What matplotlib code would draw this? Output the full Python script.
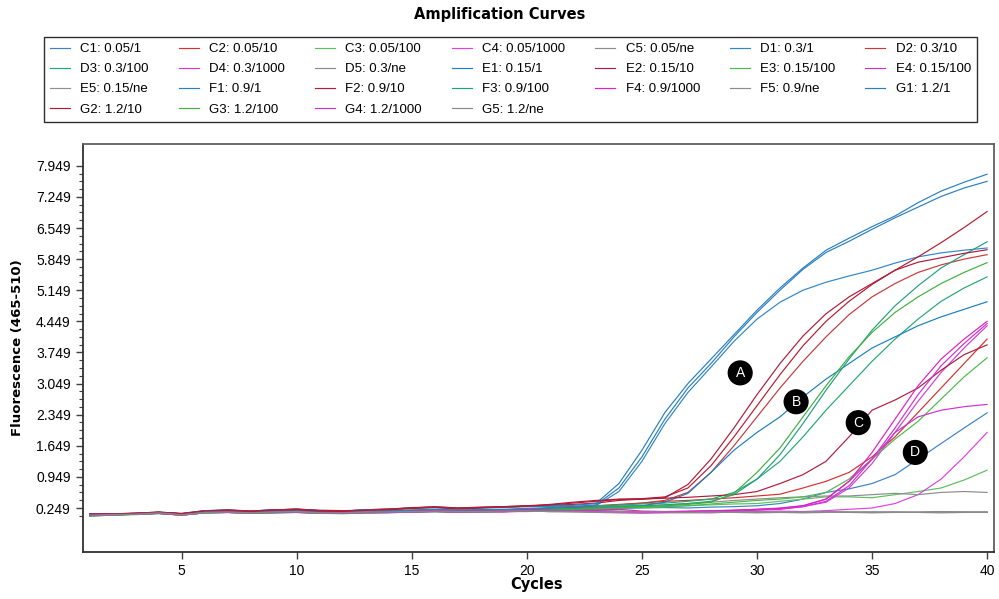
import matplotlib
matplotlib.use("Agg")
import matplotlib.pyplot as plt
from matplotlib.ticker import FixedLocator, FormatStrFormatter

# fluorescence readings per well, cycles 1..40
cycles = list(range(1, 41))

C1 = [0.07, 0.09, 0.11, 0.13, 0.09, 0.14, 0.15, 0.13, 0.14, 0.15, 0.13, 0.13, 0.14, 0.14, 0.16, 0.17, 0.16, 0.16, 0.17, 0.18, 0.18, 0.19,
      0.22, 0.24, 0.25, 0.26, 0.25, 0.27, 0.28, 0.30, 0.35, 0.45, 0.60, 0.68, 0.80, 1.00, 1.35, 1.70, 2.05, 2.39]
C2 = [0.10, 0.10, 0.12, 0.14, 0.11, 0.17, 0.18, 0.16, 0.18, 0.19, 0.16, 0.15, 0.18, 0.17, 0.20, 0.21, 0.19, 0.21, 0.21, 0.23, 0.24, 0.25,
      0.28, 0.32, 0.36, 0.40, 0.42, 0.45, 0.48, 0.52, 0.56, 0.70, 0.85, 1.05, 1.40, 1.85, 2.40, 2.95, 3.50, 4.05]
C3 = [0.08, 0.11, 0.12, 0.15, 0.10, 0.16, 0.16, 0.15, 0.16, 0.17, 0.15, 0.14, 0.16, 0.18, 0.18, 0.20, 0.18, 0.19, 0.20, 0.21, 0.22, 0.23,
      0.25, 0.26, 0.27, 0.28, 0.30, 0.32, 0.34, 0.35, 0.40, 0.45, 0.50, 0.50, 0.48, 0.55, 0.62, 0.70, 0.88, 1.10]
C4 = [0.09, 0.10, 0.11, 0.13, 0.10, 0.15, 0.16, 0.14, 0.15, 0.16, 0.14, 0.13, 0.15, 0.15, 0.17, 0.18, 0.15, 0.17, 0.16, 0.18, 0.17, 0.18,
      0.15, 0.14, 0.13, 0.14, 0.15, 0.14, 0.16, 0.17, 0.18, 0.17, 0.19, 0.22, 0.25, 0.35, 0.55, 0.90, 1.40, 1.95]
C5 = [0.12, 0.11, 0.13, 0.15, 0.12, 0.19, 0.20, 0.18, 0.21, 0.22, 0.19, 0.18, 0.21, 0.22, 0.25, 0.27, 0.24, 0.26, 0.27, 0.29, 0.28, 0.28,
      0.28, 0.30, 0.30, 0.32, 0.35, 0.38, 0.42, 0.45, 0.48, 0.50, 0.52, 0.52, 0.55, 0.58, 0.55, 0.60, 0.62, 0.60]

D1 = [0.08, 0.09, 0.12, 0.13, 0.09, 0.15, 0.16, 0.14, 0.15, 0.16, 0.14, 0.14, 0.15, 0.16, 0.17, 0.18, 0.17, 0.18, 0.19, 0.21, 0.23, 0.26,
      0.30, 0.62, 1.30, 2.15, 2.85, 3.42, 4.00, 4.50, 4.88, 5.15, 5.33, 5.47, 5.60, 5.76, 5.90, 5.99, 6.05, 6.10]
D2 = [0.10, 0.11, 0.12, 0.14, 0.10, 0.16, 0.17, 0.16, 0.17, 0.18, 0.16, 0.16, 0.17, 0.18, 0.19, 0.21, 0.20, 0.20, 0.21, 0.22, 0.24, 0.26,
      0.30, 0.33, 0.36, 0.42, 0.60, 1.05, 1.65, 2.30, 2.95, 3.55, 4.10, 4.60, 5.00, 5.30, 5.55, 5.72, 5.85, 5.95]
D3 = [0.11, 0.12, 0.13, 0.16, 0.12, 0.18, 0.19, 0.17, 0.20, 0.21, 0.18, 0.18, 0.20, 0.21, 0.24, 0.26, 0.23, 0.25, 0.26, 0.28, 0.29, 0.29,
      0.30, 0.32, 0.34, 0.36, 0.40, 0.45, 0.60, 0.90, 1.30, 1.85, 2.45, 3.00, 3.55, 4.05, 4.50, 4.90, 5.20, 5.45]
D4 = [0.09, 0.10, 0.12, 0.14, 0.11, 0.16, 0.17, 0.15, 0.17, 0.18, 0.15, 0.15, 0.17, 0.17, 0.19, 0.20, 0.18, 0.19, 0.19, 0.20, 0.20, 0.20,
      0.19, 0.18, 0.17, 0.16, 0.17, 0.18, 0.19, 0.21, 0.23, 0.28, 0.38, 0.70, 1.25, 1.95, 2.65, 3.30, 3.85, 4.35]
D5 = [0.08, 0.10, 0.11, 0.13, 0.10, 0.15, 0.16, 0.14, 0.15, 0.16, 0.14, 0.14, 0.15, 0.16, 0.16, 0.17, 0.16, 0.17, 0.17, 0.18, 0.17, 0.17,
      0.16, 0.16, 0.15, 0.16, 0.15, 0.16, 0.15, 0.16, 0.15, 0.16, 0.17, 0.16, 0.16, 0.15, 0.16, 0.17, 0.16, 0.16]

E1 = [0.09, 0.10, 0.12, 0.14, 0.10, 0.16, 0.17, 0.15, 0.17, 0.18, 0.15, 0.15, 0.17, 0.17, 0.19, 0.20, 0.19, 0.20, 0.21, 0.22, 0.23, 0.24,
      0.26, 0.28, 0.30, 0.38, 0.58, 1.05, 1.55, 1.95, 2.30, 2.75, 3.15, 3.50, 3.85, 4.10, 4.35, 4.55, 4.72, 4.89]
E2 = [0.12, 0.12, 0.13, 0.15, 0.13, 0.19, 0.20, 0.18, 0.20, 0.23, 0.19, 0.18, 0.21, 0.23, 0.25, 0.28, 0.25, 0.27, 0.28, 0.30, 0.31, 0.33,
      0.36, 0.42, 0.45, 0.47, 0.49, 0.52, 0.55, 0.62, 0.80, 1.00, 1.30, 1.85, 2.45, 2.68, 2.95, 3.35, 3.70, 3.92]
E3 = [0.07, 0.09, 0.11, 0.12, 0.09, 0.14, 0.15, 0.13, 0.14, 0.15, 0.13, 0.12, 0.14, 0.15, 0.16, 0.17, 0.16, 0.17, 0.17, 0.19, 0.19, 0.20,
      0.22, 0.24, 0.26, 0.28, 0.30, 0.34, 0.38, 0.42, 0.45, 0.50, 0.60, 0.90, 1.35, 1.80, 2.20, 2.70, 3.20, 3.63]
E4 = [0.08, 0.10, 0.11, 0.13, 0.09, 0.14, 0.15, 0.13, 0.15, 0.15, 0.13, 0.13, 0.14, 0.15, 0.16, 0.18, 0.16, 0.16, 0.17, 0.17, 0.18, 0.18,
      0.17, 0.16, 0.15, 0.16, 0.17, 0.18, 0.20, 0.22, 0.25, 0.30, 0.45, 0.85, 1.35, 1.95, 2.30, 2.45, 2.53, 2.58]
E5 = [0.09, 0.10, 0.12, 0.13, 0.10, 0.15, 0.16, 0.15, 0.16, 0.17, 0.15, 0.14, 0.16, 0.16, 0.17, 0.18, 0.17, 0.18, 0.18, 0.19, 0.18, 0.17,
      0.17, 0.16, 0.16, 0.15, 0.16, 0.16, 0.15, 0.14, 0.15, 0.15, 0.16, 0.15, 0.14, 0.15, 0.15, 0.16, 0.15, 0.15]

F1 = [0.12, 0.11, 0.13, 0.15, 0.12, 0.19, 0.20, 0.18, 0.21, 0.22, 0.19, 0.18, 0.21, 0.22, 0.25, 0.27, 0.24, 0.26, 0.27, 0.29, 0.30, 0.31,
      0.35, 0.80, 1.55, 2.40, 3.05, 3.60, 4.15, 4.70, 5.20, 5.65, 6.05, 6.32, 6.58, 6.82, 7.12, 7.38, 7.58, 7.76]
F2 = [0.11, 0.12, 0.13, 0.16, 0.12, 0.18, 0.21, 0.18, 0.21, 0.22, 0.20, 0.19, 0.20, 0.22, 0.26, 0.27, 0.25, 0.26, 0.28, 0.30, 0.33, 0.38,
      0.42, 0.45, 0.46, 0.50, 0.70, 1.20, 1.85, 2.55, 3.25, 3.90, 4.45, 4.90, 5.28, 5.60, 5.90, 6.22, 6.56, 6.92]
F3 = [0.09, 0.11, 0.12, 0.14, 0.11, 0.16, 0.17, 0.15, 0.18, 0.18, 0.16, 0.15, 0.17, 0.18, 0.20, 0.21, 0.19, 0.20, 0.21, 0.22, 0.23, 0.24,
      0.26, 0.28, 0.30, 0.32, 0.35, 0.40, 0.55, 0.90, 1.45, 2.15, 2.90, 3.60, 4.25, 4.80, 5.25, 5.65, 5.95, 6.24]
F4 = [0.10, 0.10, 0.12, 0.14, 0.10, 0.16, 0.17, 0.15, 0.17, 0.18, 0.15, 0.15, 0.17, 0.17, 0.19, 0.20, 0.19, 0.20, 0.20, 0.21, 0.21, 0.21,
      0.20, 0.22, 0.18, 0.17, 0.18, 0.19, 0.20, 0.22, 0.24, 0.30, 0.45, 0.85, 1.50, 2.25, 3.00, 3.60, 4.05, 4.45]
F5 = [0.08, 0.09, 0.11, 0.13, 0.09, 0.14, 0.15, 0.14, 0.15, 0.16, 0.14, 0.13, 0.15, 0.15, 0.16, 0.17, 0.16, 0.16, 0.17, 0.18, 0.17, 0.16,
      0.16, 0.15, 0.16, 0.15, 0.14, 0.15, 0.16, 0.15, 0.15, 0.14, 0.15, 0.16, 0.15, 0.16, 0.15, 0.14, 0.15, 0.16]

G1 = [0.10, 0.10, 0.12, 0.14, 0.11, 0.17, 0.18, 0.16, 0.18, 0.19, 0.16, 0.16, 0.18, 0.18, 0.20, 0.22, 0.20, 0.21, 0.22, 0.24, 0.26, 0.28,
      0.32, 0.70, 1.40, 2.25, 2.95, 3.50, 4.10, 4.65, 5.15, 5.62, 6.00, 6.25, 6.52, 6.78, 7.02, 7.26, 7.45, 7.60]
G2 = [0.11, 0.11, 0.13, 0.15, 0.12, 0.18, 0.19, 0.17, 0.20, 0.21, 0.18, 0.17, 0.20, 0.21, 0.24, 0.26, 0.23, 0.25, 0.27, 0.29, 0.32, 0.36,
      0.40, 0.44, 0.45, 0.48, 0.78, 1.35, 2.05, 2.80, 3.50, 4.12, 4.62, 5.00, 5.30, 5.60, 5.78, 5.88, 5.98, 6.06]
G3 = [0.07, 0.09, 0.10, 0.13, 0.09, 0.14, 0.15, 0.13, 0.14, 0.16, 0.13, 0.13, 0.14, 0.15, 0.16, 0.17, 0.16, 0.17, 0.17, 0.19, 0.20, 0.22,
      0.24, 0.26, 0.28, 0.30, 0.33, 0.38, 0.58, 1.05, 1.60, 2.30, 3.00, 3.65, 4.20, 4.65, 5.00, 5.30, 5.55, 5.77]
G4 = [0.08, 0.09, 0.11, 0.13, 0.09, 0.15, 0.15, 0.14, 0.15, 0.16, 0.14, 0.13, 0.15, 0.15, 0.16, 0.17, 0.16, 0.17, 0.17, 0.18, 0.18, 0.18,
      0.18, 0.17, 0.16, 0.15, 0.16, 0.17, 0.18, 0.20, 0.22, 0.28, 0.40, 0.75, 1.35, 2.05, 2.80, 3.45, 3.95, 4.40]
G5 = [0.09, 0.10, 0.11, 0.14, 0.10, 0.15, 0.16, 0.14, 0.16, 0.17, 0.14, 0.14, 0.16, 0.16, 0.17, 0.18, 0.17, 0.17, 0.18, 0.18, 0.17, 0.17,
      0.16, 0.17, 0.16, 0.16, 0.15, 0.16, 0.16, 0.15, 0.16, 0.15, 0.16, 0.15, 0.16, 0.16, 0.15, 0.16, 0.16, 0.15]

labels = ["C1: 0.05/1", "C2: 0.05/10", "C3: 0.05/100", "C4: 0.05/1000", "C5: 0.05/ne",
          "D1: 0.3/1", "D2: 0.3/10", "D3: 0.3/100", "D4: 0.3/1000", "D5: 0.3/ne",
          "E1: 0.15/1", "E2: 0.15/10", "E3: 0.15/100", "E4: 0.15/100", "E5: 0.15/ne",
          "F1: 0.9/1", "F2: 0.9/10", "F3: 0.9/100", "F4: 0.9/1000", "F5: 0.9/ne",
          "G1: 1.2/1", "G2: 1.2/10", "G3: 1.2/100", "G4: 1.2/1000", "G5: 1.2/ne"]
series = [C1, C2, C3, C4, C5, D1, D2, D3, D4, D5, E1, E2, E3, E4, E5,
          F1, F2, F3, F4, F5, G1, G2, G3, G4, G5]
colors = ["#3b82c6", "#d3302e", "#5cc05c", "#e040e0", "#8c8c8c",
          "#2f86c8", "#c83838", "#22a872", "#d03cd0", "#8a8a8a",
          "#1a80c0", "#b01c3c", "#4db84d", "#d030d0", "#909090",
          "#2a7fc0", "#b81a30", "#20a080", "#e020c0", "#8c8c8c",
          "#2a7fc0", "#b01a3a", "#40b040", "#d030d0", "#8a8a8a"]

y_ticks = [0.249, 0.949, 1.649, 2.349, 3.049, 3.749, 4.449, 5.149, 5.849, 6.549, 7.249, 7.949]

marks = ["A", "B", "C", "D"]
mark_x = [29.27, 31.70, 34.40, 36.88]
mark_y = [3.29, 2.64, 2.17, 1.50]

plt.rcParams["font.family"] = ["Liberation Sans", "DejaVu Sans"]

fig = plt.figure(figsize=(9.99, 5.99), dpi=100)
ax = fig.add_axes([0.0826, 0.0785, 0.9124, 0.6811])

handles = []
for vals, col, lab in zip(series, colors, labels):
    ln, = ax.plot(cycles, vals, color=col, lw=0.85, label=lab)
    handles.append(ln)

for m, mx, my in zip(marks, mark_x, mark_y):
    ax.text(mx, my, m, color="white", fontsize=10, ha="center", va="center",
            bbox=dict(boxstyle="circle,pad=0.35", fc="black", ec="black"))

ax.set_xlim(0.69, 40.3)
ax.set_ylim(-0.74, 8.44)
ax.set_xticks([5, 10, 15, 20, 25, 30, 35, 40])
ax.yaxis.set_major_locator(FixedLocator(y_ticks))
minor = [y_ticks[0] - 0.175 + 0.175 * k for k in range(46)]
ax.yaxis.set_minor_locator(FixedLocator(minor))
ax.yaxis.set_major_formatter(FormatStrFormatter("%.3f"))
ax.tick_params(axis="both", labelsize=10, length=5, width=1, color="#404040")
ax.tick_params(axis="y", which="minor", length=3, width=0.8, color="#404040")
for side in ["left", "bottom"]:
    ax.spines[side].set_color("#303030")
    ax.spines[side].set_linewidth(1.3)
for side in ["top", "right"]:
    ax.spines[side].set_color("#606060")
    ax.spines[side].set_linewidth(1.3)

# legend filled row by row like the instrument software
ncol = 7
order = []
for c in range(ncol):
    order += list(range(c, len(handles), ncol))
leg = fig.legend([handles[i] for i in order], [labels[i] for i in order],
                 ncol=ncol, loc="upper left", mode="expand",
                 bbox_to_anchor=(44 / 999, 1 - 120 / 599, 933 / 999, 83 / 599),
                 fontsize=9.5, handlelength=1.5, handletextpad=0.8, labelspacing=0.6,
                 borderaxespad=0, borderpad=0.45, fancybox=False, framealpha=1,
                 edgecolor="#303030")
leg.get_frame().set_linewidth(1.0)

fig.text(0.5, 1 - 14 / 599, "Amplification Curves", ha="center", va="center",
         fontsize=10.5, fontweight="bold", family="DejaVu Sans")
fig.text(537 / 999, 1 - 585 / 599, "Cycles", ha="center", va="center",
         fontsize=10.5, fontweight="bold", family="DejaVu Sans")
fig.text(18 / 999, 1 - 348 / 599, "Fluorescence (465-510)", ha="center", va="center",
         rotation=90, fontsize=9.5, fontweight="bold", family="DejaVu Sans")

fig.savefig("out.png", dpi=100)
